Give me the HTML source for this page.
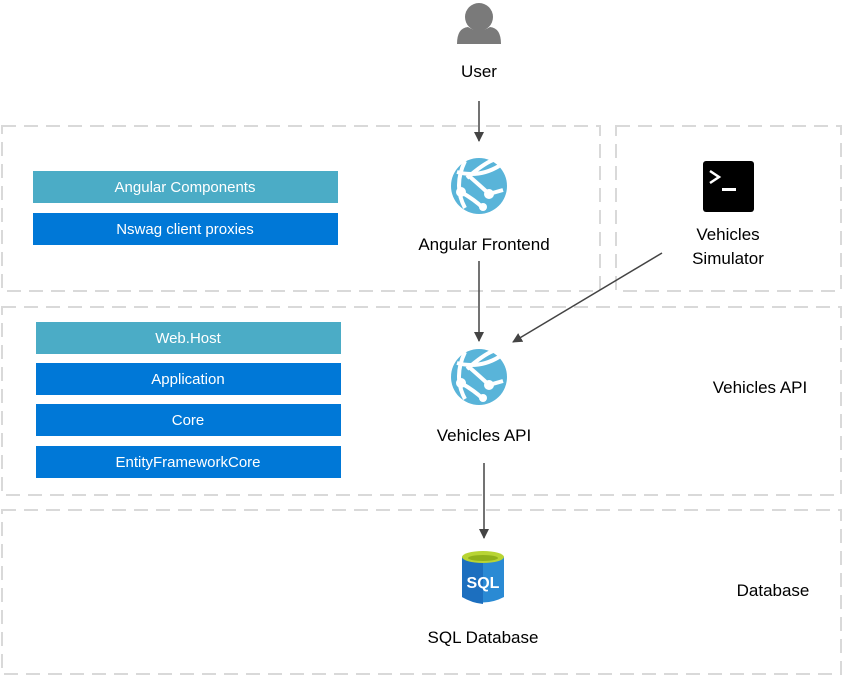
<!DOCTYPE html>
<html><head><style>body{margin:0;background:#fff}svg{display:block}text{font-family:"Segoe UI","Liberation Sans",sans-serif}</style></head><body>
<svg width="843" height="676" xmlns="http://www.w3.org/2000/svg">
<defs>
<marker id="a" markerWidth="10" markerHeight="10" refX="9" refY="5" orient="auto" markerUnits="userSpaceOnUse"><path d="M0,0 L10,5 L0,10 z" fill="#444"/></marker>
<g id="globe">
<circle cx="0" cy="0" r="28" fill="#59b4d9"/>
<path d="M-22,-14 Q0,-8 20,-20 M-14,-25 Q-26,0 -14,22 M-18,6 Q-4,14 4,22 M-10,-10 Q6,4 10,8 M10,8 L24,4 M-12,-8 Q4,-22 14,-26" stroke="#fff" stroke-width="4" fill="none"/>
<circle cx="-18" cy="6" r="5" fill="#fff"/><circle cx="10" cy="8" r="5" fill="#fff"/><circle cx="4" cy="21" r="4" fill="#fff"/>
</g>
</defs>
<g fill="none" stroke="#d9d9d9" stroke-width="2" stroke-dasharray="14 8">
<rect x="2" y="126" width="598" height="165"/>
<rect x="616" y="126" width="225" height="165"/>
<rect x="2" y="307" width="839" height="188"/>
<rect x="2" y="510" width="839" height="164"/>
</g>
<circle cx="479" cy="17" r="14" fill="#7a7a7a"/>
<path d="M457,44 Q457,28 468,27 Q479,34 490,27 Q501,28 501,44 z" fill="#7a7a7a"/>
<text x="479" y="77" font-size="17" text-anchor="middle">User</text>
<line x1="479" y1="101" x2="479" y2="141" stroke="#444" stroke-width="1.5" marker-end="url(#a)"/>
<use href="#globe" x="479" y="186"/>
<text x="484" y="250" font-size="17" text-anchor="middle">Angular Frontend</text>
<line x1="479" y1="261" x2="479" y2="341" stroke="#444" stroke-width="1.5" marker-end="url(#a)"/>
<line x1="662" y1="253" x2="513" y2="342" stroke="#444" stroke-width="1.5" marker-end="url(#a)"/>
<rect x="703" y="161" width="51" height="51" rx="3" fill="#000"/>
<path d="M710,171 L719,177 L710,183" stroke="#fff" stroke-width="2.5" fill="none"/>
<rect x="722" y="188" width="14" height="3" fill="#fff"/>
<text x="728" y="240" font-size="17" text-anchor="middle">Vehicles</text>
<text x="728" y="264" font-size="17" text-anchor="middle">Simulator</text>
<rect x="33" y="171" width="305" height="32" fill="#4bacc6"/>
<text x="185" y="192" font-size="15" fill="#fff" text-anchor="middle">Angular Components</text>
<rect x="33" y="213" width="305" height="32" fill="#0078d7"/>
<text x="185" y="234" font-size="15" fill="#fff" text-anchor="middle">Nswag client proxies</text>
<rect x="36" y="322" width="305" height="32" fill="#4bacc6"/>
<text x="188" y="343" font-size="15" fill="#fff" text-anchor="middle">Web.Host</text>
<rect x="36" y="363" width="305" height="32" fill="#0078d7"/>
<text x="188" y="384" font-size="15" fill="#fff" text-anchor="middle">Application</text>
<rect x="36" y="404" width="305" height="32" fill="#0078d7"/>
<text x="188" y="425" font-size="15" fill="#fff" text-anchor="middle">Core</text>
<rect x="36" y="446" width="305" height="32" fill="#0078d7"/>
<text x="188" y="467" font-size="15" fill="#fff" text-anchor="middle">EntityFrameworkCore</text>
<use href="#globe" x="479" y="377"/>
<text x="484" y="441" font-size="17" text-anchor="middle">Vehicles API</text>
<text x="760" y="393" font-size="17" text-anchor="middle">Vehicles API</text>
<line x1="484" y1="463" x2="484" y2="538" stroke="#444" stroke-width="1.5" marker-end="url(#a)"/>
<path d="M462,557 L462,597 Q483,608 504,597 L504,557 z" fill="#2a8ad4"/>
<path d="M462,557 L462,597 Q472,603 483,604 L483,561 z" fill="#1c6fbf"/>
<ellipse cx="483" cy="557" rx="21" ry="6" fill="#b8d433"/>
<ellipse cx="483" cy="558" rx="15" ry="3" fill="#8fb01a"/>
<text x="483" y="588" font-size="16" font-weight="bold" fill="#fff" text-anchor="middle">SQL</text>
<text x="483" y="643" font-size="17" text-anchor="middle">SQL Database</text>
<text x="773" y="596" font-size="17" text-anchor="middle">Database</text>
</svg>
</body></html>
